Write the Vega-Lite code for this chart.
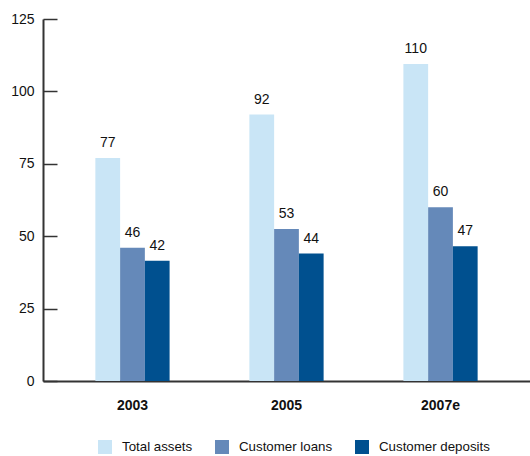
{
  "$schema": "https://vega.github.io/schema/vega-lite/v6.json",
  "width": 487,
  "height": 362,
  "autosize": "none",
  "padding": {"left": 43, "top": 19, "right": 0, "bottom": 75},
  "background": "white",
  "config": {
    "view": {"stroke": null},
    "font": "Liberation Sans",
    "text": {"font": "Liberation Sans"}
  },
  "data": {
    "values": [
      {"year": "2003", "series": "Total assets", "value": 77},
      {"year": "2003", "series": "Customer loans", "value": 46},
      {"year": "2003", "series": "Customer deposits", "value": 41.5, "label": "42"},
      {"year": "2005", "series": "Total assets", "value": 92},
      {"year": "2005", "series": "Customer loans", "value": 52.5, "label": "53"},
      {"year": "2005", "series": "Customer deposits", "value": 44},
      {"year": "2007e", "series": "Total assets", "value": 109.5, "label": "110"},
      {"year": "2007e", "series": "Customer loans", "value": 60},
      {"year": "2007e", "series": "Customer deposits", "value": 46.5, "label": "47"}
    ]
  },
  "transform": [{"calculate": "datum.label ? datum.label : format(datum.value, 'd')", "as": "lbl"}],
  "encoding": {
    "x": {
      "field": "year",
      "type": "nominal",
      "sort": ["2003", "2005", "2007e"],
      "scale": {"paddingInner": 0.518, "paddingOuter": 0.34},
      "axis": {
        "title": null,
        "labelAngle": 0,
        "ticks": false,
        "domainColor": "#333333",
        "domainWidth": 2,
        "labelFontWeight": "bold",
        "labelFontSize": 14,
        "labelColor": "#111111",
        "labelPadding": 17
      }
    },
    "xOffset": {
      "field": "series",
      "type": "nominal",
      "sort": ["Total assets", "Customer loans", "Customer deposits"]
    }
  },
  "layer": [
    {
      "mark": {"type": "bar"},
      "encoding": {
        "y": {
          "field": "value",
          "type": "quantitative",
          "scale": {"domain": [0, 125], "nice": false},
          "axis": {
            "title": null,
            "values": [0, 25, 50, 75, 100, 125],
            "grid": false,
            "domainColor": "#333333",
            "domainWidth": 2,
            "tickColor": "#333333",
            "tickWidth": 1.5,
            "tickSize": -14,
            "labelPadding": 23,
            "labelFontSize": 14,
            "labelColor": "#111111"
          }
        },
        "color": {
          "field": "series",
          "type": "nominal",
          "sort": ["Total assets", "Customer loans", "Customer deposits"],
          "scale": {
            "domain": ["Total assets", "Customer loans", "Customer deposits"],
            "range": ["#c9e5f6", "#6589b9", "#00508f"]
          },
          "legend": {
            "title": null,
            "orient": "none",
            "direction": "horizontal",
            "legendX": 55,
            "legendY": 421,
            "symbolType": "square",
            "symbolSize": 196,
            "symbolStrokeWidth": 0,
            "symbolOpacity": 1,
            "symbolOffset": 0,
            "labelFontSize": 13.3,
            "labelColor": "#111111",
            "labelOffset": 10,
            "columnPadding": 22
          }
        }
      }
    },
    {
      "mark": {"type": "text", "baseline": "alphabetic", "dy": -11, "fontSize": 14, "color": "#111111"},
      "encoding": {
        "y": {"field": "value", "type": "quantitative"},
        "text": {"field": "lbl"}
      }
    }
  ]
}
